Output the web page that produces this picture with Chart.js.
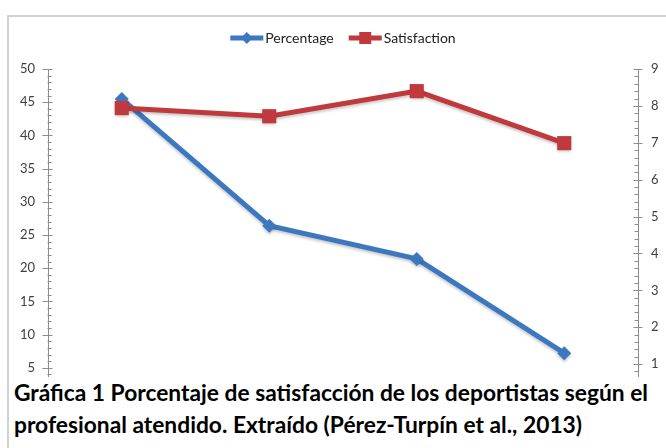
<!DOCTYPE html>
<html>
<head>
<meta charset="utf-8">
<script src="https://cdn.jsdelivr.net/npm/chart.js@4.4.0/dist/chart.umd.min.js"></script>
<style>
    body { margin: 0; background: #fff; }
    #wrap { position: relative; width: 666px; height: 448px; overflow: hidden; background: #fff; }
    #frame { position: absolute; left: 7px; top: 15px; width: 720px; height: 520px; border: 2px solid #d2d2d2; box-sizing: border-box; }
    #chart { position: absolute; left: 0; top: 0; }
    #caption { position: absolute; left: 9px; top: 377px; right: 0; bottom: 0; background: #fff; }
    .line { position: absolute; left: 5px; white-space: nowrap; transform-origin: 0 0;
            font-family: Lato, "Open Sans", sans-serif; font-weight: bold; font-size: 22px; line-height: 22px; color: #000; }
</style>
</head>
<body>
<div id="wrap">
    <div id="frame"></div>
    <canvas id="chart" width="666" height="448"></canvas>
    <div id="caption">
        <span class="line" id="line1" style="top:5px">Gráfica 1 Porcentaje de satisfacción de los deportistas según el</span>
        <span class="line" id="line2" style="top:37px">profesional atendido. Extraído (Pérez-Turpín et al., 2013)</span>
    </div>
</div>
<script>
// Données
const categories = ['Profesional 1', 'Profesional 2', 'Profesional 3', 'Profesional 4'];
const percentage = [45.5, 26.4, 21.4, 7.2];
const satisfaction = [7.94, 7.72, 8.40, 6.99];

// Axes
const leftMax = 50, leftStep = 5, leftMinor = 1;
const rightMax = 9, rightStep = 1, rightMinor = 0.2;

const blue = '#3c78c0';
const red = '#c0393c';
const axisColor = '#8c8c8c';
const labelColor = '#404040';
const fontFamily = 'Lato, "Open Sans", sans-serif';

// Petites graduations à la manière d'Excel
const tickMarks = {
    id: 'tickMarks',
    afterDraw(chart) {
        const ctx = chart.ctx;
        const yl = chart.scales.y;
        const yr = chart.scales.y1;
        ctx.save();
        ctx.strokeStyle = axisColor;
        ctx.lineWidth = 1;
        ctx.beginPath();
        const xl = Math.round(yl.right) - 0.5;
        for (let v = 0; v <= leftMax + 1e-6; v += leftMinor) {
            const y = Math.round(yl.getPixelForValue(v)) + 0.5;
            const major = Math.abs(v / leftStep - Math.round(v / leftStep)) < 1e-6;
            ctx.moveTo(major ? xl - 5 : xl, y);
            ctx.lineTo(major ? xl + 5 : xl + 4, y);
        }
        const xr = Math.round(yr.left) + 0.5;
        for (let v = 0; v <= rightMax + 1e-6; v += rightMinor) {
            const y = Math.round(yr.getPixelForValue(v)) + 0.5;
            const major = Math.abs(v / rightStep - Math.round(v / rightStep)) < 1e-6;
            ctx.moveTo(major ? xr - 5 : xr - 4, y);
            ctx.lineTo(major ? xr + 4 : xr, y);
        }
        ctx.stroke();
        ctx.restore();
    }
};

// Légende dessinée à la main : trait + marqueur au milieu
const excelLegend = {
    id: 'excelLegend',
    afterDraw(chart) {
        const ctx = chart.ctx;
        const lineLen = 33, gap = 2, itemGap = 15;
        const y = 38;
        ctx.save();
        ctx.font = '14px ' + fontFamily;
        ctx.textBaseline = 'middle';
        const items = chart.data.datasets.map(ds => ({
            ds, w: lineLen + gap + ctx.measureText(ds.label).width
        }));
        const total = items.reduce((s, it) => s + it.w, 0) + itemGap * (items.length - 1);
        let x = (chart.chartArea.left + chart.chartArea.right) / 2 - total / 2;
        items.forEach(({ ds, w }) => {
            ctx.strokeStyle = ds.borderColor;
            ctx.lineWidth = 5;
            ctx.beginPath();
            ctx.moveTo(x, y);
            ctx.lineTo(x + lineLen, y);
            ctx.stroke();
            ctx.fillStyle = ds.borderColor;
            const cx = x + lineLen / 2;
            ctx.beginPath();
            if (ds.pointStyle === 'rect') {
                ctx.rect(cx - 6, y - 6, 12, 12);
            } else {
                ctx.moveTo(cx, y - 6); ctx.lineTo(cx + 6, y);
                ctx.lineTo(cx, y + 6); ctx.lineTo(cx - 6, y);
                ctx.closePath();
            }
            ctx.fill();
            ctx.fillStyle = '#222';
            ctx.fillText(ds.label, x + lineLen + gap, y);
            x += w + itemGap;
        });
        ctx.restore();
    }
};

// Ombre légère sous les séries
const softShadow = {
    id: 'softShadow',
    beforeDatasetsDraw(chart) {
        const ctx = chart.ctx;
        ctx.save();
        ctx.shadowColor = 'rgba(0,0,0,0.22)';
        ctx.shadowBlur = 3;
        ctx.shadowOffsetY = 2;
    },
    afterDatasetsDraw(chart) {
        chart.ctx.restore();
    }
};

const tickFont = { family: fontFamily, size: 13 };

new Chart(document.getElementById('chart'), {
    type: 'line',
    data: {
        labels: categories,
        datasets: [{
            label: 'Percentage',
            data: percentage,
            yAxisID: 'y',
            borderColor: blue,
            backgroundColor: blue,
            borderWidth: 5,
            pointStyle: 'rectRot',
            pointRadius: 7,
            pointBorderWidth: 0,
            order: 2,
            tension: 0
        }, {
            label: 'Satisfaction',
            data: satisfaction,
            yAxisID: 'y1',
            borderColor: red,
            backgroundColor: red,
            borderWidth: 5,
            pointStyle: 'rect',
            pointRadius: 10,
            pointBorderWidth: 0,
            order: 1,
            tension: 0
        }]
    },
    options: {
        responsive: false,
        animation: false,
        layout: { padding: { top: 69, bottom: 47, left: 0, right: 0 } },
        plugins: {
            legend: { display: false },
            tooltip: { enabled: false }
        },
        scales: {
            x: {
                offset: true,
                ticks: { display: false },
                grid: { display: false, drawTicks: false },
                border: { display: false },
                afterFit: s => { s.height = 0; }
            },
            y: {
                position: 'left',
                min: 0,
                max: leftMax,
                ticks: { stepSize: leftStep, padding: 13, color: labelColor, font: tickFont },
                grid: { display: false, drawTicks: false },
                border: { color: axisColor, width: 1 },
                afterFit: s => { s.width = 48; }
            },
            y1: {
                position: 'right',
                min: 0,
                max: rightMax,
                ticks: { stepSize: rightStep, padding: 13, color: labelColor, font: tickFont },
                grid: { display: false, drawTicks: false },
                border: { color: axisColor, width: 1 },
                afterFit: s => { s.width = 28; }
            }
        }
    },
    plugins: [softShadow, tickMarks, excelLegend]
});

// Ajuste la légende de la figure à la largeur d'origine
const l1 = document.getElementById('line1');
const l2 = document.getElementById('line2');
const k = 634 / l1.getBoundingClientRect().width;
l1.style.transform = `scaleX(${k})`;
l2.style.transform = `scaleX(${k})`;
</script>
</body>
</html>
